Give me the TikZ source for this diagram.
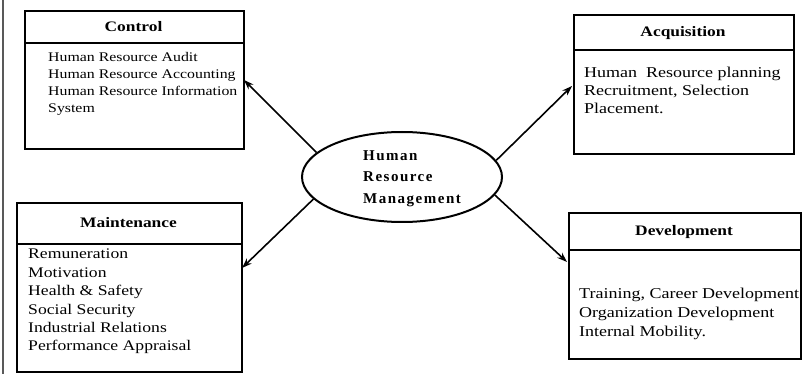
\documentclass[tikz,border=0pt]{standalone}
\usepackage{fontspec}
\setmainfont{Liberation Serif}[FakeStretch=1.2]
\newfontfamily\hrmfont{Liberation Serif}[LetterSpace=10]
\usetikzlibrary{arrows.meta,shapes.geometric}
\begin{document}
\begin{tikzpicture}[x=1pt,y=-1pt,
  box/.style={draw,line width=2pt,rectangle,inner sep=0pt,anchor=north west},
  divider/.style={line width=1.8pt},
  title/.style={font=\fontsize{14.5}{17}\selectfont\bfseries,anchor=base,inner sep=0pt},
  body/.style={align=left,anchor=north west,inner sep=0pt},
  arr/.style={line width=1.6pt,-{Stealth[length=10pt,width=7pt]}},
  hub/.style={draw,ellipse,line width=2pt,minimum width=200pt,minimum height=90pt,inner sep=0pt}
]
\useasboundingbox (0,0) rectangle (803,374);
\fill[white] (0,0) rectangle (803,374);
\draw[gray!70!black,line width=1.2pt] (3,0) -- (3,374);

% Control
\node[box,minimum width=219pt,minimum height=138pt] (ctrl) at (24,10) {};
\draw[divider] (24,43) -- (243,43);
\node[title] (ctrlt) at (133.5,31.5) {Control};
\node[body,font=\fontsize{13.2}{16.8}\selectfont] (ctrlb) at (48,52.4)
  {Human Resource Audit\\Human Resource Accounting\\Human Resource Information\\System};

% Maintenance
\node[box,minimum width=225pt,minimum height=169pt] (mnt) at (16,202) {};
\draw[divider] (16,244) -- (241,244);
\node[title] (mntt) at (128.5,227.5) {Maintenance};
\node[body,font=\fontsize{14.7}{18.4}\selectfont] (mntb) at (28,249)
  {Remuneration\\Motivation\\Health \& Safety\\Social Security\\Industrial Relations\\Performance Appraisal};

% Acquisition
\node[box,minimum width=220pt,minimum height=139pt] (acq) at (573,14) {};
\draw[divider] (573,50) -- (793,50);
\node[title] (acqt) at (683,36.5) {Acquisition};
\node[body,font=\fontsize{15}{18}\selectfont] (acqb) at (584,66.7)
  {Human\ \ Resource planning\\Recruitment, Selection\\Placement.};

% Development
\node[box,minimum width=232pt,minimum height=146pt] (dev) at (568,212) {};
\draw[divider] (568,250) -- (800,250);
\node[title] (devt) at (684,236) {Development};
\node[body,font=\fontsize{15}{19}\selectfont] (devb) at (579,287.7)
  {Training, Career Development\\Organization Development\\Internal Mobility.};

% Hub
\node[hub] (hrm) at (402,177) {};
\node[body,font=\hrmfont\bfseries\fontsize{15}{21.5}\selectfont] (hrmt) at (363,150)
  {Human\\Resource\\Management};

% Connectors
\coordinate (ce) at (244,80);
\coordinate (ae) at (572,86);
\coordinate (me) at (242,268);
\coordinate (de) at (567,262);
\draw[arr] (hrm.164) -- (ce);
\draw[arr] (hrm.10) -- (ae);
\draw[arr] (hrm.194) -- (me);
\draw[arr] (hrm.349) -- (de);
\end{tikzpicture}
\end{document}
